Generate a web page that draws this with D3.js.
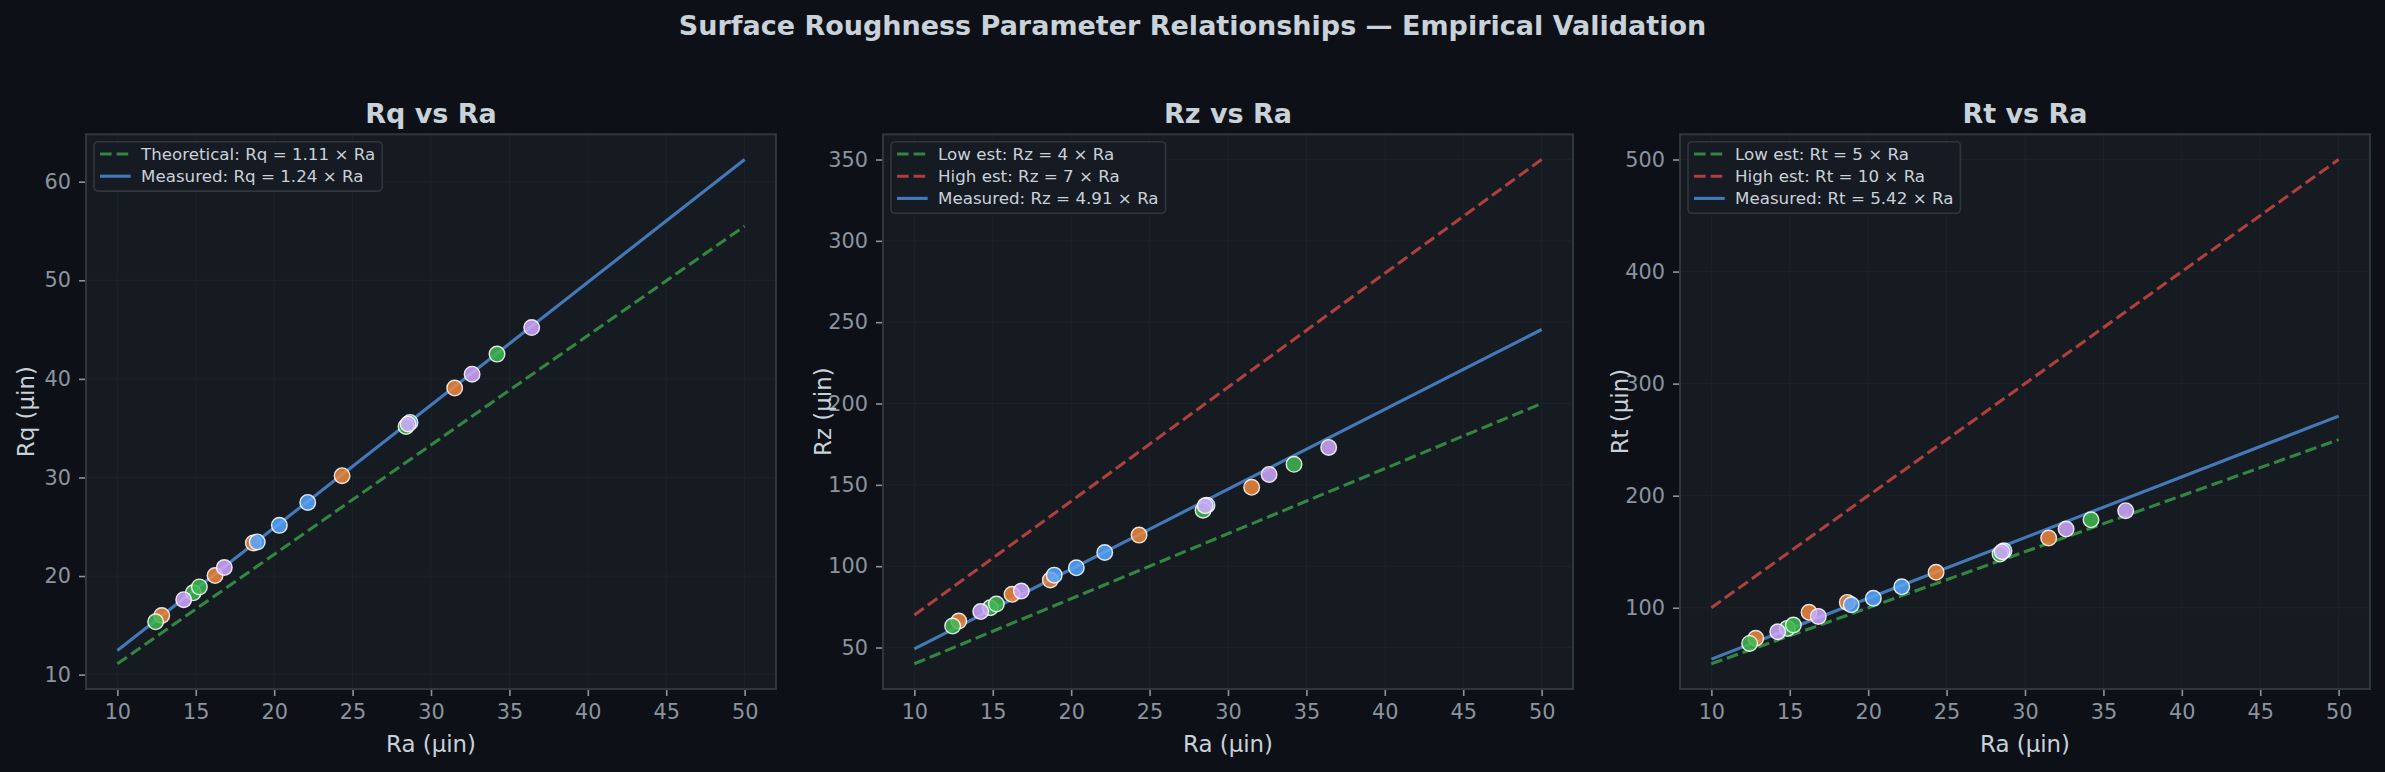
<!DOCTYPE html>
<html>
<head>
<meta charset="utf-8">
<script src="https://cdn.jsdelivr.net/npm/d3@7"></script>
<style>
  html, body { margin: 0; padding: 0; background: #0d1117; }
  svg { display: block; font-family: "DejaVu Sans", sans-serif; }
</style>
</head>
<body>
<svg id="chart" width="2385" height="772"></svg>
<script>
// ---- data ----
var groupNames = ['orange', 'blue', 'green', 'purple'];
var groupColors = ['#f0883e', '#58a6ff', '#3fb950', '#d2a8ff'];

// Ra of each measured sample, per group
var raOrange = [12.83, 16.23, 18.67, 24.33, 31.51];
var raBlue   = [18.92, 20.33, 22.14, 28.66];
var raGreen  = [12.44, 14.84, 15.23, 28.41, 34.21];
var raPurple = [14.23, 16.82, 28.54, 32.62, 36.42];

var rqOrange = [16.0, 20.05, 23.36, 30.18, 39.07];
var rqBlue   = [23.46, 25.14, 27.47, 35.58];
var rqGreen  = [15.36, 18.3, 18.9, 35.17, 42.51];
var rqPurple = [17.6, 20.86, 35.42, 40.48, 45.2];

var rzOrange = [66.3, 82.7, 91.5, 119.1, 148.5];
var rzBlue   = [94.5, 99.0, 108.4, 137.5];
var rzGreen  = [63.2, 74.5, 76.7, 134.4, 162.6];
var rzPurple = [72.1, 84.7, 137.1, 156.4, 173.0];

var rtOrange = [72.7, 95.9, 104.8, 131.6, 162.2];
var rtBlue   = [102.7, 108.4, 118.7, 150.8];
var rtGreen  = [68.2, 81.6, 84.6, 147.9, 178.5];
var rtPurple = [78.6, 92.3, 150.0, 170.2, 186.6];

var raRange = [10, 50];

var panelTitles = ['Rq vs Ra', 'Rz vs Ra', 'Rt vs Ra'];
var yLabels = ['Rq (µin)', 'Rz (µin)', 'Rt (µin)'];
var xTicks = [10, 15, 20, 25, 30, 35, 40, 45, 50];
var yTicks1 = [10, 20, 30, 40, 50, 60];
var yTicks2 = [50, 100, 150, 200, 250, 300, 350];
var yTicks3 = [100, 200, 300, 400, 500];

// reference lines: slope, label, kind
var refSlopes1 = [1.11, 1.245];
var refLabels1 = ['Theoretical: Rq = 1.11 × Ra', 'Measured: Rq = 1.24 × Ra'];
var refSlopes2 = [4, 7, 4.91];
var refLabels2 = ['Low est: Rz = 4 × Ra', 'High est: Rz = 7 × Ra', 'Measured: Rz = 4.91 × Ra'];
var refSlopes3 = [5, 10, 5.42];
var refLabels3 = ['Low est: Rt = 5 × Ra', 'High est: Rt = 10 × Ra', 'Measured: Rt = 5.42 × Ra'];
var refKinds2 = ['low', 'high', 'measured'];
var refKinds1 = ['low', 'measured'];

// ---- styling ----
var lineStyle = {
    low: {color: '#3fb950', dash: '11.6,5'},
    high: {color: '#f85149', dash: '11.6,5'},
    measured: {color: '#58a6ff', dash: null}
};
var lineOpacity = 0.68;
var lineWidth = 3.1;

var svg = d3.select('#chart');
svg.append('rect').attr('width', 2385).attr('height', 772).attr('fill', '#0d1117');

svg.append('text')
    .attr('x', 1192.5).attr('y', 35)
    .attr('text-anchor', 'middle')
    .attr('font-size', 27).attr('font-weight', 'bold')
    .attr('fill', '#c9d1d9')
    .text('Surface Roughness Parameter Relationships — Empirical Validation');

function buildPoints(ras, vals) {
    var pts = [];
    for (var g = 0; g < ras.length; g++) {
        for (var i = 0; i < ras[g].length; i++) {
            pts.push({ra: ras[g][i], v: vals[g][i], color: groupColors[g]});
        }
    }
    return pts;
}

var allRa = [raOrange, raBlue, raGreen, raPurple];
var panels = [
    {title: panelTitles[0], ylab: yLabels[0], yTicks: yTicks1, slopes: refSlopes1, labels: refLabels1, kinds: refKinds1,
        points: buildPoints(allRa, [rqOrange, rqBlue, rqGreen, rqPurple])},
    {title: panelTitles[1], ylab: yLabels[1], yTicks: yTicks2, slopes: refSlopes2, labels: refLabels2, kinds: refKinds2,
        points: buildPoints(allRa, [rzOrange, rzBlue, rzGreen, rzPurple])},
    {title: panelTitles[2], ylab: yLabels[2], yTicks: yTicks3, slopes: refSlopes3, labels: refLabels3, kinds: refKinds2,
        points: buildPoints(allRa, [rtOrange, rtBlue, rtGreen, rtPurple])}
];

var panelLeft = [86, 883, 1680];
var panelTop = 134.3;
var panelW = 690;
var panelH = 554.7;

function padded(lo, hi) {
    var m = (hi - lo) * 0.05;
    return [lo - m, hi + m];
}

panels.forEach(function (p, idx) {
    var left = panelLeft[idx];
    var g = svg.append('g').attr('transform', 'translate(' + left + ',' + panelTop + ')');

    // y extent from lines + points, like matplotlib autoscale
    var ys = [];
    p.slopes.forEach(function (s) { ys.push(s * raRange[0], s * raRange[1]); });
    p.points.forEach(function (d) { ys.push(d.v); });

    var x = d3.scaleLinear().domain(padded(raRange[0], raRange[1])).range([0, panelW]);
    var y = d3.scaleLinear().domain(padded(d3.min(ys), d3.max(ys))).range([panelH, 0]);

    g.append('rect').attr('width', panelW).attr('height', panelH).attr('fill', '#161b22');

    // grid
    g.append('g').selectAll('line').data(xTicks).enter().append('line')
        .attr('x1', x).attr('x2', x).attr('y1', 0).attr('y2', panelH)
        .attr('stroke', '#21262d').attr('stroke-opacity', 0.6).attr('stroke-width', 1);
    g.append('g').selectAll('line').data(p.yTicks).enter().append('line')
        .attr('y1', y).attr('y2', y).attr('x1', 0).attr('x2', panelW)
        .attr('stroke', '#21262d').attr('stroke-opacity', 0.6).attr('stroke-width', 1);

    // axes
    var xAxis = g.append('g').attr('transform', 'translate(0,' + panelH + ')')
        .call(d3.axisBottom(x).tickValues(xTicks).tickSize(7).tickPadding(8).tickFormat(d3.format('d')));
    var yAxis = g.append('g')
        .call(d3.axisLeft(y).tickValues(p.yTicks).tickSize(7).tickPadding(8).tickFormat(d3.format('d')));
    [xAxis, yAxis].forEach(function (a) {
        a.select('.domain').remove();
        a.selectAll('line').attr('stroke', '#8b949e').attr('stroke-width', 1.6);
        a.selectAll('text').attr('fill', '#8b949e').attr('font-size', 20.8)
            .attr('font-family', '"DejaVu Sans", sans-serif');
    });

    // reference lines
    var line = d3.line().x(function (d) { return x(d[0]); }).y(function (d) { return y(d[1]); });
    p.slopes.forEach(function (s, i) {
        var st = lineStyle[p.kinds[i]];
        g.append('path')
            .attr('d', line([[raRange[0], s * raRange[0]], [raRange[1], s * raRange[1]]]))
            .attr('fill', 'none')
            .attr('stroke', st.color).attr('stroke-opacity', lineOpacity)
            .attr('stroke-width', lineWidth)
            .attr('stroke-dasharray', st.dash);
    });

    // points
    g.append('g').selectAll('circle').data(p.points).enter().append('circle')
        .attr('cx', function (d) { return x(d.ra); })
        .attr('cy', function (d) { return y(d.v); })
        .attr('r', 7.8)
        .attr('fill', function (d) { return d.color; })
        .attr('fill-opacity', 0.85)
        .attr('stroke', '#ffffff').attr('stroke-opacity', 0.85).attr('stroke-width', 1.4);

    // frame
    g.append('rect').attr('width', panelW).attr('height', panelH)
        .attr('fill', 'none').attr('stroke', '#30363d').attr('stroke-width', 2);

    // titles
    g.append('text').attr('x', panelW / 2).attr('y', 122.7 - panelTop)
        .attr('text-anchor', 'middle').attr('font-size', 27).attr('font-weight', 'bold')
        .attr('fill', '#c9d1d9').text(p.title);
    g.append('text').attr('x', panelW / 2).attr('y', 752 - panelTop)
        .attr('text-anchor', 'middle').attr('font-size', 22.9)
        .attr('fill', '#c9d1d9').text('Ra (µin)');
    g.append('text')
        .attr('transform', 'translate(' + (34 - 86) + ',' + panelH / 2 + ') rotate(-90)')
        .attr('text-anchor', 'middle').attr('font-size', 22.9)
        .attr('fill', '#c9d1d9').text(p.ylab);

    // legend
    var lg = g.append('g').attr('transform', 'translate(8,7.4)');
    var box = lg.append('rect').attr('rx', 4).attr('ry', 4)
        .attr('fill', '#161b22').attr('fill-opacity', 0.9)
        .attr('stroke', '#30363d').attr('stroke-width', 1.6);
    var maxW = 0;
    p.labels.forEach(function (lab, i) {
        var st = lineStyle[p.kinds[i]];
        var cy = 12.3 + i * 22.2;
        lg.append('line').attr('x1', 6).attr('x2', 36.7).attr('y1', cy).attr('y2', cy)
            .attr('stroke', st.color).attr('stroke-opacity', lineOpacity).attr('stroke-width', lineWidth)
            .attr('stroke-dasharray', st.dash);
        var t = lg.append('text').attr('x', 47).attr('y', cy + 6)
            .attr('font-size', 16.7).attr('fill', '#c9d1d9').text(lab);
        maxW = Math.max(maxW, t.node().getComputedTextLength());
    });
    box.attr('width', 47 + maxW + 7).attr('height', p.labels.length * 22.2 + 5);
});
</script>
</body>
</html>
